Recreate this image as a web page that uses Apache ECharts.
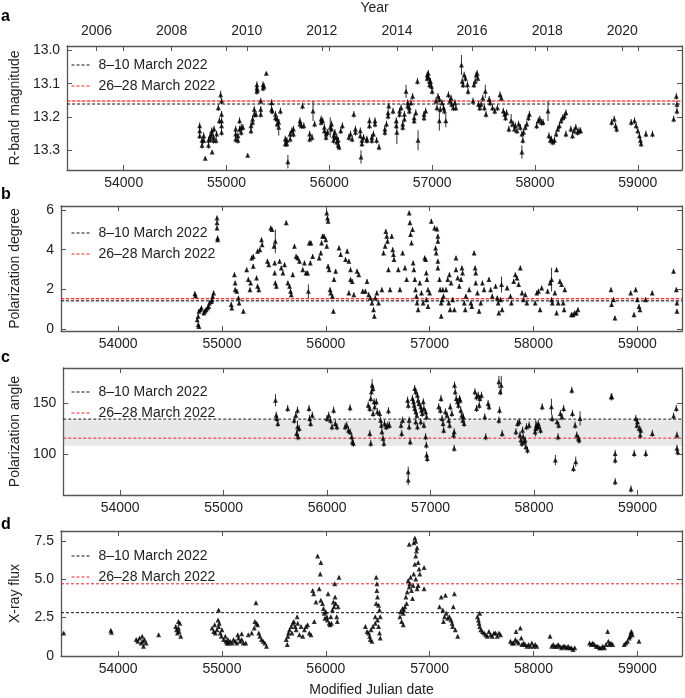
<!DOCTYPE html>
<html><head><meta charset="utf-8">
<script src="https://cdn.jsdelivr.net/npm/echarts@6/dist/echarts.min.js"></script>
<style>html,body{margin:0;padding:0;background:#fff}#c{width:685px;height:698px}</style>
</head><body><div id="c"></div>
<script>
// ---------- axes / ticks ----------
const xMin = 53450, xMax = 59430;
const mjdTicks = [54000, 55000, 56000, 57000, 58000, 59000];
const yearTicks = [2006, 2008, 2010, 2012, 2014, 2016, 2018, 2020];
const legendNames = ['8–10 March 2022', '26–28 March 2022'];

// ---------- panel a: R-band magnitude [MJD, mag, err?] ----------
const aErr = 0.01;
const aData = [
[54739,13.226],[54739,13.241],[54739,13.256],[54762,13.270],[54762,13.285],[54778,13.256],[54778,13.270],[54793,13.324,.005],
[54825,13.270],[54825,13.285],[54841,13.256],[54841,13.266],[54857,13.241],[54857,13.251],[54860,13.305,.005],[54873,13.261],[54873,13.270],
[54879,13.236],[54898,13.270],[54904,13.251],[54920,13.172],[54930,13.211],[54943,13.133,.012],[54952,13.152],[54952,13.192],[54952,13.211],
[54952,13.226],[54952,13.246],[55089,13.236],[55089,13.251],[55089,13.266],[55111,13.256],[55111,13.270],[55127,13.211],[55127,13.236],
[55143,13.231],[55143,13.246],[55159,13.231],[55206,13.315,.005],[55238,13.226],[55238,13.241],[55254,13.206],[55254,13.216],[55270,13.177],
[55270,13.192],[55286,13.192],[55295,13.103],[55295,13.113],[55295,13.123],[55301,13.118],[55333,13.152],[55333,13.177],[55333,13.192],
[55355,13.103],[55355,13.113],[55365,13.108],[55387,13.069,.005],[55438,13.157],[55438,13.177],[55444,13.182],[55476,13.192],[55476,13.202],
[55492,13.206],[55492,13.221],[55508,13.216],[55508,13.231,.025],[55524,13.182],[55571,13.266],[55571,13.280],[55587,13.270],[55587,13.280],
[55597,13.334,.02],[55619,13.251],[55619,13.266],[55635,13.241],[55651,13.236],[55651,13.251],[55714,13.211],[55714,13.221],[55730,13.226],
[55739,13.167],[55752,13.226],[55809,13.251],[55809,13.266],[55832,13.261],[55841,13.182,.03],[55857,13.221],[55920,13.206],[55920,13.216],
[55936,13.211],[55952,13.231],[55952,13.241],[55968,13.251],[55968,13.261],[55984,13.246],[56009,13.231,.03],[56022,13.221],[56022,13.236],
[56041,13.256],[56041,13.270],[56054,13.246],[56054,13.261],[56073,13.261],[56073,13.275],[56086,13.270],[56086,13.285],[56095,13.290],
[56111,13.241],[56127,13.226],[56190,13.261],[56206,13.251],[56222,13.266],[56238,13.192],[56254,13.236],[56254,13.246],[56301,13.241],
[56301,13.256],[56308,13.320,.02],[56317,13.270],[56317,13.280],[56333,13.261],[56365,13.266],[56365,13.270],[56390,13.211],[56390,13.226],
[56413,13.261],[56413,13.270],[56429,13.251],[56444,13.211],[56444,13.221],[56460,13.270],[56483,13.290],[56540,13.236],[56540,13.246],
[56556,13.221],[56571,13.187],[56571,13.197],[56578,13.167],[56619,13.182],[56651,13.211],[56651,13.226],[56657,13.246,.035],[56683,13.182],
[56683,13.192],[56698,13.172],[56714,13.221],[56714,13.231],[56730,13.192],[56730,13.206],[56746,13.123,.02],[56762,13.157],[56762,13.167],
[56778,13.172],[56778,13.182],[56794,13.157],[56810,13.138],[56825,13.202],[56825,13.211],[56841,13.187],[56857,13.093],[56863,13.270,.03],
[56921,13.192],[56921,13.202],[56937,13.182],[56952,13.074],[56952,13.084],[56962,13.069],[56962,13.079],[56975,13.093],[56975,13.103],
[56984,13.093],[56994,13.108],[57000,13.123],[57038,13.152],[57047,13.172],[57057,13.138],[57070,13.147],[57079,13.177],[57070,13.211,.03],
[57095,13.157],[57111,13.172],[57120,13.182],[57133,13.211,.02],[57158,13.133],[57174,13.152],[57184,13.143],[57190,13.162],[57206,13.172],
[57222,13.157],[57231,13.172],[57285,13.044,.03],[57292,13.093],[57301,13.103],[57311,13.074],[57324,13.084],[57343,13.103],[57349,13.123],
[57397,13.152],[57406,13.103],[57419,13.093],[57428,13.074],[57438,13.069],[57444,13.084],[57451,13.162],[57463,13.172],[57476,13.162],
[57492,13.143],[57508,13.172],[57524,13.192],[57517,13.123,.02],[57555,13.147],[57565,13.157],[57587,13.172],[57609,13.182],[57635,13.172],
[57660,13.133],[57673,13.143],[57692,13.182],[57705,13.192],[57714,13.202],[57724,13.187],[57746,13.236],[57768,13.211,.02],[57787,13.221],
[57800,13.236],[57809,13.226],[57825,13.241],[57841,13.221],[57857,13.231],[57873,13.251],[57882,13.270],[57889,13.246],[57905,13.231],
[57921,13.221],[57936,13.202],[57946,13.192],[57873,13.305,.02],[58016,13.226],[58032,13.211],[58048,13.206],[58063,13.216],[58079,13.216],
[58127,13.182,.03],[58136,13.256],[58149,13.270],[58159,13.266],[58174,13.275],[58190,13.270],[58206,13.251],[58222,13.236],[58238,13.226],
[58254,13.211],[58270,13.202],[58286,13.197],[58301,13.187],[58301,13.251],[58349,13.236],[58365,13.256],[58381,13.241],[58397,13.231],
[58413,13.246],[58428,13.241],[58444,13.241],[58746,13.216],[58771,13.206],[58784,13.226],[58794,13.236],[58936,13.216],[58968,13.211],
[58984,13.226],[59000,13.241],[59016,13.256],[59025,13.270],[59032,13.280],[59079,13.251],[59143,13.251],[59349,13.206],[59375,13.138],
[59381,13.162],[59381,13.182]
];
const aRefs = [13.161, 13.152];
const aBands = [null, [13.149, 13.155]];

// ---------- panel b: polarization degree ----------
const bErr = 0.12;
const bData = [
[54739,1.78],[54746,1.68],[54762,0.47],[54771,0.64],[54778,0.89],[54771,0.22],[54778,0.13],[54793,0.97],[54803,1.06],[54825,0.81],
[54835,0.89],[54847,0.97],[54860,1.06],[54873,1.14],[54879,1.31],[54898,1.39],[54904,1.48],[54920,1.82],[54911,1.65],[54952,5.60],
[54952,5.35],[54952,5.09],[54958,4.59],[54958,4.50],[55089,1.23],[55095,1.06],[55120,2.74],[55127,2.32],[55127,1.98],[55143,1.90],
[55159,1.56],[55165,1.31],[55206,0.89],[55238,2.99],[55254,2.49],[55270,1.98],[55276,2.32],[55286,3.58],[55301,3.66],[55301,3.16],
[55333,2.57],[55343,2.15],[55355,1.98],[55343,3.92],[55365,4.00],[55381,4.50],[55387,4.25],[55438,3.41],[55451,3.24],[55470,5.09],
[55482,5.01],[55501,4.17],[55508,3.33],[55508,2.82],[55514,2.32],[55524,2.15],[55514,4.42,.6],[55555,3.41],[55571,3.08],[55587,2.82],
[55603,3.24],[55619,5.35],[55635,2.32],[55651,2.15],[55660,1.90],[55667,1.73],[55682,2.74],[55698,4.17],[55714,3.66],[55730,3.58],
[55746,3.41],[55778,2.99],[55794,3.33],[55809,2.82],[55825,2.82],[55841,4.34],[55851,3.33],[55832,1.90,.35],[55857,4.34],[55873,3.66],
[55936,3.58],[55952,3.83],[55959,4.34],[55968,4.67],[55984,4.67],[56000,4.50],[56009,4.17],[56009,5.85],[56016,5.60],[56022,5.43],
[56022,3.16],[56032,2.99],[56041,1.98],[56047,1.82],[56063,1.65],[56073,0.89],[56079,2.49],[56095,2.91],[56127,4.08],[56143,3.75],
[56190,3.50],[56206,3.92],[56222,3.41],[56238,2.99],[56238,2.49],[56222,1.82],[56254,2.40],[56270,1.73],[56301,2.91],[56317,2.74],
[56355,1.90],[56381,1.90],[56397,2.40],[56413,1.73],[56429,1.56],[56444,1.31],[56460,0.97],[56467,0.64],[56476,1.56],[56492,1.82],
[56508,1.31],[56540,1.98],[56556,3.83],[56571,4.17],[56578,4.92],[56587,4.67],[56594,4.42],[56603,2.99],[56619,1.98],[56635,4.67],
[56644,4.00],[56651,3.75],[56657,3.50],[56698,2.99],[56714,1.98],[56740,3.83],[56762,3.08],[56778,2.49],[56803,5.85],[56810,5.35],
[56816,4.76],[56825,4.34],[56835,5.01],[56841,3.33],[56848,2.99],[56857,2.49],[56864,1.98],[56873,1.65],[56879,1.31],[56889,0.97],
[56905,2.32],[56921,1.82],[56937,1.31],[56952,3.58],[56962,3.50],[56968,2.82],[56974,2.49],[56984,1.98],[56968,1.48],[56984,1.14],
[57000,1.82],[57016,5.43],[57047,5.09],[57070,5.04],[57079,4.67],[57079,4.42],[57057,4.08],[57063,3.83],[57079,3.41],[57079,3.08],
[57095,2.49],[57101,1.98],[57111,1.31],[57111,0.64],[57120,1.48],[57127,1.98],[57133,1.65],[57158,1.98],[57174,2.49],[57190,2.74],
[57206,2.32],[57222,1.48],[57238,0.97],[57184,1.31],[57197,0.97],[57254,3.58],[57254,2.99],[57270,2.57],[57285,2.15],[57301,2.49],
[57311,3.08],[57317,2.82],[57333,1.31],[57349,1.65],[57343,0.97],[57381,1.98],[57397,1.31],[57406,1.14],[57428,3.83],[57438,3.08],
[57444,2.82],[57444,2.32],[57460,1.82],[57476,0.89],[57492,1.31],[57508,2.32],[57524,1.98],[57571,2.49],[57587,1.98],[57603,1.65],
[57635,2.15],[57651,1.56],[57660,1.31],[57666,0.81],[57682,1.48],[57692,2.24,.4],[57698,0.97],[57746,2.07],[57778,1.65],[57787,1.31],
[57809,2.40],[57825,2.74],[57841,2.57],[57857,2.24],[57873,3.08],[57889,1.82],[57905,1.48],[57921,1.73],[57936,1.31],[58016,1.31],
[58032,1.82],[58048,1.90],[58063,0.97],[58079,2.07],[58136,1.90],[58159,2.32],[58174,1.48],[58181,1.31],[58174,2.49,.6],[58206,1.82],
[58222,2.99],[58238,1.31],[58222,0.81],[58254,2.40],[58270,2.24],[58286,1.31],[58295,0.97],[58301,1.98],[58365,0.72],[58381,0.72],
[58397,0.81],[58413,0.81],[58428,0.97],[58746,1.98],[58752,1.23],[58771,1.48],[58784,0.55],[58936,1.82],[58968,0.72],[58984,1.98],
[59000,1.48],[59016,1.14],[59025,0.97],[59079,1.48],[59143,1.82],[59349,2.91],[59375,1.98],[59381,1.31],[59381,0.89]
];
const bRefs = [1.42, 1.53];
const bBands = [[1.37, 1.46], [1.48, 1.58]];

// ---------- panel c: polarization angle ----------
const cErr = 3.5;
const cData = [
[55501,152.9,6],[55508,138.2],[55514,135.0],[55524,130.1],[55619,144.8],[55682,133.3],[55698,138.2],[55714,143.1],[55714,126.8,6],
[55705,120.2],[55720,117.0],[55730,125.2],[55825,144.8],[55831,135.0],[55841,130.1],[55857,138.2],[55999,135.0],[56016,138.2],
[56032,133.3],[56047,126.8],[56063,143.1],[56079,130.1],[56095,126.8],[56174,126.8],[56190,128.4],[56206,123.5],[56222,121.9],
[56238,117.0],[56244,112.1],[56254,110.5],[56222,145.4],[56397,148.0],[56413,144.8],[56422,154.6],[56428,161.1],[56435,167.6,6],
[56444,164.4],[56454,151.3],[56460,146.4],[56476,151.3],[56486,141.5],[56444,139.9],[56413,120.2],[56422,110.5],[56508,139.9],
[56517,133.3],[56524,128.4],[56530,121.9],[56540,115.4],[56549,110.5],[56555,130.1],[56571,126.8],[56587,128.4],[56603,128.4],
[56593,142.5],[56714,128.4],[56721,120.2],[56730,133.3],[56778,152.9],[56784,148.0],[56793,133.3],[56793,126.8],[56803,112.1],
[56784,82.7,5],[56784,74.5,5],[56825,154.6],[56835,151.3],[56841,148.0],[56847,144.8],[56857,141.5],[56867,138.2],[56873,157.8],
[56879,152.9],[56889,149.7],[56905,146.4],[56911,143.1],[56920,139.9],[56930,151.3],[56936,144.8],[56952,141.5],[56962,136.6],
[56847,164.4],[56857,161.1],[56857,131.7],[56873,126.8],[56905,131.7],[56936,128.4],[56952,117.0],[56959,108.8],[56962,99.0],
[56968,95.7],[57079,146.4],[57095,143.1],[57101,154.6],[57111,135.0],[57121,130.1],[57127,123.5],[57143,141.5],[57159,138.2],
[57175,133.3],[57184,128.4],[57190,146.4],[57206,139.9],[57222,118.6],[57228,121.9],[57228,105.6],[57232,167.6],[57238,161.1],
[57248,154.6],[57260,151.3],[57270,148.0],[57279,154.6],[57286,152.9],[57292,143.1],[57302,138.2],[57311,133.3],[57317,136.6],
[57324,130.1],[57429,161.1],[57444,156.2],[57460,157.8],[57470,148.0],[57476,154.6],[57492,157.8],[57444,144.8],[57524,136.6],
[57533,117.0],[57556,149.7],[57565,146.4],[57660,170.9,6],[57667,143.1],[57673,161.1],[57683,167.6,9],[57660,133.3],[57692,120.2],
[57825,121.9],[57841,130.1],[57857,131.7],[57864,118.6],[57873,113.7],[57883,110.5],[57889,123.5],[57895,117.0],[57905,112.1],
[57914,113.7],[57921,107.2],[57927,126.8],[57937,103.9],[57952,128.4],[58010,121.9],[58016,125.2,8],[58022,128.4],[58032,126.8],
[58041,130.1],[58048,126.8],[58063,123.5],[58079,146.4],[58168,146.4,8],[58175,135.0],[58206,94.1,5],[58222,131.7],[58232,117.0],
[58238,128.4],[58254,139.9],[58270,136.6],[58286,144.8],[58365,162.7],[58371,139.9],[58381,85.9],[58397,128.4],[58403,92.5,5],
[58413,118.6],[58429,115.4],[58435,113.7],[58445,135.0,7],[58746,156.2],[58752,156.2],[58784,100.6],[58784,94.1],[58784,72.9],
[58937,65.7],[58968,100.6],[58984,135.0],[58994,128.4],[59000,131.7],[59016,125.2],[59026,118.6],[59032,123.5],[59080,100.6],
[59143,120.2],[59349,137.3],[59375,144.8],[59381,118.6],[59381,105.6],[59388,102.3]
];
const cRefs = [134.3, 115.6];
const cBands = [[108.1, 133.3], null];

// ---------- panel d: X-ray flux ----------
const dErr = 0.06;
const dData = [
[53476,1.49],[53930,1.67],[53936,1.54],[54174,1.07],[54190,0.96],[54206,1.17],[54222,0.85],[54232,1.28],[54238,0.96],[54244,0.64],
[54254,1.07],[54270,0.85],[54390,1.39],[54555,1.92],[54562,1.71],[54571,1.49],[54581,1.82],[54587,1.60],[54594,2.13],[54603,1.28],
[54581,2.24],[54905,1.82],[54921,1.60],[54930,2.03],[54936,1.49],[54952,1.71],[54962,2.35],[54968,1.92],[54968,2.99],[54974,2.13],
[54984,1.49],[54994,1.28],[55000,1.71],[55016,1.07],[55032,1.28],[55038,0.96],[55048,0.85],[55057,1.07],[55063,0.85],[55079,0.96],
[55095,0.85],[55111,1.07],[55127,0.96],[55143,0.85],[55152,1.39],[55159,1.17],[55175,0.96],[55190,1.07],[55190,1.45],[55206,0.85],
[55229,0.85],[55254,1.39],[55286,1.49],[55311,1.82],[55317,2.24],[55327,3.46],[55333,2.13],[55343,2.03],[55355,1.49],[55365,1.28],
[55381,1.07],[55397,0.96],[55413,0.85],[55429,0.64],[55619,1.07],[55629,0.75],[55635,1.28],[55641,1.49],[55651,1.71],[55667,1.92],
[55673,1.49],[55683,2.13],[55692,2.24],[55705,1.92],[55714,1.71],[55724,2.56],[55730,2.13],[55746,1.39],[55762,1.92],[55778,1.28],
[55794,1.71],[55810,1.92],[55825,2.03],[55841,1.49],[55857,1.39],[55873,4.27],[55883,4.06],[55889,2.24],[55905,3.52],[55921,6.52],
[55937,4.38],[55946,5.34],[55952,6.09],[55952,3.63],[55968,3.42],[55978,3.10],[55984,2.78],[55991,2.46],[56000,2.88],[56010,2.56],
[56016,2.35],[56022,4.06],[56032,2.13],[56041,2.03],[56048,2.56],[56054,2.13],[56063,2.99],[56073,3.52],[56079,3.20],[56086,4.70],
[56089,3.85],[56095,3.42],[56105,2.56],[56111,2.24],[56118,3.20],[56127,5.13],[56381,1.92],[56397,1.60],[56412,1.49],[56422,1.28],
[56428,1.07],[56444,0.96],[56435,1.71],[56454,1.92],[56476,2.56],[56485,3.42],[56485,5.13],[56492,4.70],[56492,4.27],[56498,3.85],
[56508,3.31],[56517,2.99],[56524,2.56],[56508,1.92],[56517,1.49],[56524,1.17],[56498,2.35],[56476,2.13],[56714,2.56],[56720,2.88],
[56730,2.24],[56739,3.10],[56746,2.78],[56752,2.99],[56762,3.20],[56771,3.85],[56778,3.42],[56784,4.17],[56793,4.91],[56803,4.49],
[56809,4.70],[56816,5.13],[56825,4.27],[56835,3.74],[56841,4.59],[56847,5.34],[56857,5.98],[56866,6.52],[56873,6.84],[56847,7.37],
[56857,7.69],[56866,7.48],[56879,7.05],[56889,6.09],[56898,5.66],[56866,5.02],[56879,4.38],[56889,4.59],[56905,5.34],[56803,7.27],
[56946,5.77],[56946,4.38],[56746,2.03],[57095,3.20],[57111,3.85],[57127,2.99],[57133,2.24],[57143,2.56],[57152,3.95],[57159,2.78],
[57174,2.46],[57190,2.56],[57206,2.35],[57216,2.13],[57222,1.92],[57228,3.20],[57238,4.06],[57247,1.71],[57270,1.28],[57460,2.56],
[57470,2.35],[57476,2.13],[57482,1.92],[57492,1.71],[57508,1.60],[57524,1.49],[57540,1.39],[57555,1.28],[57571,1.60],[57587,1.39],
[57603,1.28],[57619,1.49],[57635,1.49],[57651,1.28],[57667,1.49],[57682,1.39],[57482,2.78],[57778,0.96],[57794,0.85],[57809,0.85],
[57825,1.07],[57832,1.60],[57841,0.96],[57857,0.85],[57873,1.82],[57882,1.17],[57889,0.75],[57905,0.85],[57920,0.75],[57936,0.64],
[57952,0.75],[57968,0.64],[57984,0.85],[58000,0.64],[58016,0.75],[58032,0.64],[58159,1.28],[58175,0.64],[58190,0.75],[58206,0.64],
[58222,0.64],[58238,0.75],[58254,0.64],[58270,0.53],[58286,0.64],[58302,0.64],[58317,0.53],[58333,0.64],[58349,0.53],[58365,0.53],
[58381,0.43],[58397,0.53],[58540,0.85],[58556,0.75],[58571,0.85],[58587,0.75],[58603,0.64],[58619,0.64],[58635,0.53],[58651,0.53],
[58667,0.64],[58683,0.53],[58698,0.75],[58714,1.60],[58721,0.96],[58730,0.75],[58746,0.85],[58762,0.75],[58873,0.75],[58889,0.85],
[58905,0.96],[58921,1.17],[58930,1.28],[58937,1.49],[58943,1.60],[58952,1.39],[59016,0.96]
];
const dRefs = [2.82, 4.70];
const dBands = [null, null];

// ---------- layout ----------
const FONT = '"Liberation Sans", Arial, Helvetica, sans-serif';
const TXT = '#222';
const BOX = '#555';
const gridBoxes = [[44,126],[206,125],[368,127],[531,127]];
const panels = [
  {data:aData, err:aErr, refs:aRefs, bands:aBands, min:12.987, max:13.359, inverse:true,
   ticks:[13.0,13.1,13.2,13.3], fmt:v=>v.toFixed(1), name:'R-band magnitude', letter:'a', legTop:53},
  {data:bData, err:bErr, refs:bRefs, bands:bBands, min:-0.1, max:6.2, inverse:false,
   ticks:[0,2,4,6], fmt:v=>String(v), name:'Polarization degree', letter:'b', legTop:221},
  {data:cData, err:cErr, refs:cRefs, bands:cBands, min:59.8, max:184.5, inverse:false,
   ticks:[100,150], fmt:v=>String(v), name:'Polarization angle', letter:'c', legTop:380},
  {data:dData, err:dErr, refs:dRefs, bands:dBands, min:0, max:8.14, inverse:false,
   ticks:[0,2.5,5,7.5], fmt:v=>v===0?'0':v.toFixed(1), name:'X-ray flux', letter:'d', legTop:544}
];
const letterTops = [9, 187, 350, 517];

const mjdOf = y => (Date.UTC(y,0,1) - Date.UTC(1858,10,17)) / 86400000;
const yearMjd = yearTicks.map(mjdOf);

const grid = [], xAxis = [], yAxis = [], series = [], legend = [], graphic = [];
const refColors = ['#111', '#ee2026'];
const bandColors = ['rgba(150,150,150,0.22)', 'rgba(255,90,90,0.28)'];

panels.forEach((p, g) => {
  const [top, h] = gridBoxes[g];
  grid.push({left:53, right:3, top:top, height:h, containLabel:false});
  const baseX = {type:'value', gridIndex:g, min:xMin, max:xMax, splitLine:{show:false},
    axisLine:{show:true, onZero:false, lineStyle:{color:BOX, width:1.3}},
    axisTick:{show:true, inside:true, length:5, customValues:mjdTicks, lineStyle:{color:BOX}}};
  xAxis.push(Object.assign({}, baseX, {position:'bottom',
    axisLabel:{show:true, customValues:mjdTicks, formatter:v=>String(v), margin:6, fontSize:14, fontFamily:FONT, color:TXT},
    name: g===3 ? 'Modified Julian date' : '', nameLocation:'middle', nameGap:27,
    nameTextStyle:{fontSize:14, fontFamily:FONT, color:TXT}}));
  xAxis.push(Object.assign({}, baseX, {position:'top', axisLabel:{show:false}}));
  const baseY = {type:'value', gridIndex:g, min:p.min, max:p.max, inverse:p.inverse, splitLine:{show:false},
    axisLine:{show:true, onZero:false, lineStyle:{color:BOX, width:1.3}},
    axisTick:{show:true, inside:true, length:5, customValues:p.ticks, lineStyle:{color:BOX}}};
  yAxis.push(Object.assign({}, baseY, {position:'left',
    axisLabel:{show:true, customValues:p.ticks, formatter:p.fmt, margin:7, fontSize:14, fontFamily:FONT, color:TXT},
    name:p.name, nameLocation:'middle', nameGap:39, nameRotate:90,
    nameTextStyle:{fontSize:14, fontFamily:FONT, color:TXT}}));
  yAxis.push(Object.assign({}, baseY, {position:'right', axisLabel:{show:false}}));

  const xi = 2*g, yi = 2*g;
  p.refs.forEach((v, k) => {
    const s = {type:'line', name:legendNames[k], xAxisIndex:xi, yAxisIndex:yi,
      data:[[xMin, v],[xMax, v]], symbol:'none', silent:true, z:2,
      lineStyle:{color:refColors[k], width:1, type:[3,2]}, itemStyle:{color:refColors[k]}};
    if (p.bands[k]) {
      s.markArea = {silent:true, itemStyle:{color:bandColors[k]},
        data:[[{yAxis:p.bands[k][0]},{yAxis:p.bands[k][1]}]]};
    }
    series.push(s);
  });
  const pts = p.data.map(d => [d[0], d[1], d.length > 2 ? d[2] : p.err]);
  series.push({type:'custom', xAxisIndex:xi, yAxisIndex:yi, data:pts, silent:true, z:3, clip:true,
    encode:{x:0, y:1},
    renderItem:(params, api) => {
      const x = api.value(0), y = api.value(1), e = api.value(2);
      const p1 = api.coord([x, y - e]), p2 = api.coord([x, y + e]);
      return {type:'line', shape:{x1:p1[0], y1:p1[1], x2:p2[0], y2:p2[1]},
        style:{stroke:'#333', lineWidth:1}};
    }});
  series.push({type:'scatter', xAxisIndex:xi, yAxisIndex:yi, data:pts.map(d=>[d[0],d[1]]),
    symbol:'triangle', symbolSize:5, itemStyle:{color:'#000'}, silent:true, z:4});

  legend.push({show:true, orient:'vertical', left:66, top:p.legTop, itemWidth:19, itemHeight:14, itemGap:7,
    selectedMode:false, data:legendNames,
    itemStyle:{opacity:0}, lineStyle:{width:1},
    textStyle:{fontSize:14, fontFamily:FONT, color:TXT, lineHeight:14, padding:[0,0,0,3]}});
  graphic.push({type:'text', left:1, top:letterTops[g],
    style:{text:p.letter, font:'bold 16px ' + FONT, fill:'#000'}});
});

// Year axis at the top of panel a
xAxis.push({type:'value', gridIndex:0, position:'top', min:xMin, max:xMax, splitLine:{show:false},
  axisLine:{show:false},
  axisTick:{show:true, inside:true, length:5, customValues:yearMjd, lineStyle:{color:BOX}},
  axisLabel:{show:true, customValues:yearMjd, margin:8, fontSize:14, fontFamily:FONT, color:TXT,
    formatter:v => { const i = yearMjd.indexOf(v); return i >= 0 ? String(yearTicks[i]) : ''; }},
  name:'Year', nameLocation:'middle', nameGap:31, nameTextStyle:{fontSize:14, fontFamily:FONT, color:TXT}});

const chart = echarts.init(document.getElementById('c'), null, {renderer:'canvas'});
chart.setOption({animation:false, backgroundColor:'#fff', grid, xAxis, yAxis, series, legend, graphic});
</script></body></html>
